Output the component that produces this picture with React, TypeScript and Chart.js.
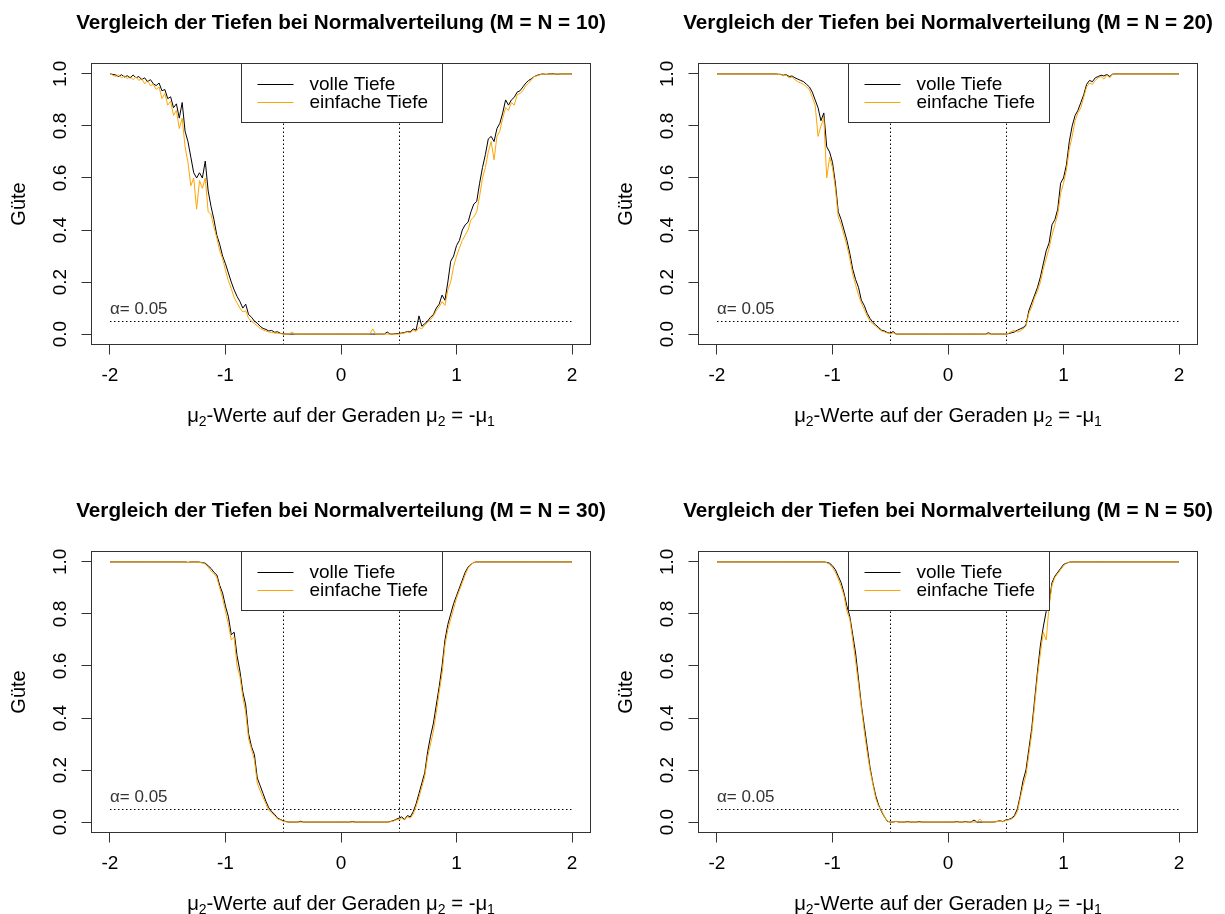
import React, { useEffect, useRef } from "react";
import { Chart, registerables } from "chart.js";

Chart.register(...registerables);

// x grid: mu2 values along the line mu2 = -mu1
const MU2 = [
  -2, -1.975, -1.95, -1.925, -1.9, -1.875, -1.85, -1.825, -1.8, -1.775, -1.75, -1.725, -1.7, -1.675, -1.65, -1.625, -1.6, -1.575, -1.55, -1.525,
  -1.5, -1.475, -1.45, -1.425, -1.4, -1.375, -1.35, -1.325, -1.3, -1.275, -1.25, -1.225, -1.2, -1.175, -1.15, -1.125, -1.1, -1.075, -1.05, -1.025,
  -1, -0.975, -0.95, -0.925, -0.9, -0.875, -0.85, -0.825, -0.8, -0.775, -0.75, -0.725, -0.7, -0.675, -0.65, -0.625, -0.6, -0.575, -0.55, -0.525,
  -0.5, -0.475, -0.45, -0.425, -0.4, -0.375, -0.35, -0.325, -0.3, -0.275, -0.25, -0.225, -0.2, -0.175, -0.15, -0.125, -0.1, -0.075, -0.05, -0.025,
  0, 0.025, 0.05, 0.075, 0.1, 0.125, 0.15, 0.175, 0.2, 0.225, 0.25, 0.275, 0.3, 0.325, 0.35, 0.375, 0.4, 0.425, 0.45, 0.475,
  0.5, 0.525, 0.55, 0.575, 0.6, 0.625, 0.65, 0.675, 0.7, 0.725, 0.75, 0.775, 0.8, 0.825, 0.85, 0.875, 0.9, 0.925, 0.95, 0.975,
  1, 1.025, 1.05, 1.075, 1.1, 1.125, 1.15, 1.175, 1.2, 1.225, 1.25, 1.275, 1.3, 1.325, 1.35, 1.375, 1.4, 1.425, 1.45, 1.475,
  1.5, 1.525, 1.55, 1.575, 1.6, 1.625, 1.65, 1.675, 1.7, 1.725, 1.75, 1.775, 1.8, 1.825, 1.85, 1.875, 1.9, 1.925, 1.95, 1.975,
  2,
];

// M = N = 10
const P1_FULL = [
  1.0, 0.998, 0.996, 0.99, 0.997, 0.988, 0.993, 0.984, 0.996, 0.985, 0.99, 0.978, 0.985, 0.97, 0.978, 0.962, 0.955, 0.965, 0.935, 0.94,
  0.905, 0.912, 0.87, 0.885, 0.83, 0.89, 0.78, 0.74, 0.68, 0.62, 0.6, 0.62, 0.6, 0.665, 0.55, 0.49, 0.44, 0.38, 0.345, 0.3,
  0.27, 0.235, 0.2, 0.17, 0.145, 0.125, 0.1, 0.115, 0.075, 0.065, 0.05, 0.042, 0.03, 0.022, 0.018, 0.012, 0.014, 0.007, 0.009, 0.003,
  0.001, 0, 0, 0, 0, 0, 0, 0, 0, 0, 0, 0, 0, 0, 0, 0, 0, 0, 0, 0,
  0, 0, 0, 0, 0, 0, 0, 0, 0, 0, 0, 0, 0, 0, 0, 0, 0.008, 0, 0, 0.002,
  0.002, 0.004, 0.006, 0.01, 0.008, 0.02, 0.015, 0.07, 0.03, 0.04, 0.05, 0.065, 0.075, 0.1, 0.115, 0.15, 0.13, 0.2, 0.28, 0.3,
  0.34, 0.36, 0.4, 0.42, 0.43, 0.47, 0.5, 0.51, 0.58, 0.64, 0.69, 0.75, 0.76, 0.74, 0.79, 0.81, 0.85, 0.9, 0.88, 0.9,
  0.91, 0.93, 0.935, 0.95, 0.965, 0.975, 0.982, 0.99, 0.995, 0.998, 1, 0.998, 1, 1, 1, 0.999, 1, 1, 1, 1,
  1,
];
const P1_SIMPLE = [
  1.0, 0.995, 0.99, 0.996, 0.985, 0.993, 0.982, 0.99, 0.978, 0.988, 0.975, 0.982, 0.962, 0.975, 0.955, 0.96, 0.94, 0.95, 0.905, 0.925,
  0.88, 0.895, 0.84, 0.86, 0.79, 0.83, 0.72, 0.66, 0.57, 0.6, 0.48, 0.59, 0.56, 0.6, 0.47, 0.46, 0.41, 0.37, 0.32, 0.29,
  0.245, 0.205, 0.175, 0.14, 0.12, 0.1, 0.085, 0.09, 0.06, 0.05, 0.04, 0.032, 0.022, 0.016, 0.012, 0.008, 0.006, 0.004, 0.003, 0.002,
  0, 0, 0, 0.008, 0, 0, 0, 0, 0, 0, 0, 0, 0, 0, 0, 0, 0, 0, 0, 0,
  0, 0, 0, 0, 0, 0, 0, 0, 0, 0, 0, 0.02, 0, 0, 0, 0, 0, 0, 0, 0,
  0, 0.002, 0.004, 0.008, 0.005, 0.015, 0.01, 0.025, 0.02, 0.035, 0.045, 0.055, 0.07, 0.09, 0.105, 0.125, 0.11, 0.17, 0.2, 0.26,
  0.3, 0.33, 0.36, 0.38, 0.4, 0.44, 0.45, 0.47, 0.53, 0.6, 0.64, 0.7, 0.74, 0.67, 0.76, 0.78, 0.83, 0.87, 0.86, 0.89,
  0.88, 0.92, 0.925, 0.935, 0.955, 0.965, 0.978, 0.99, 0.993, 0.997, 1, 0.998, 1, 0.997, 1, 1, 1, 1, 1, 1,
  1,
];

// M = N = 20
const P2_FULL = [
  1, 1, 1, 1, 1, 1, 1, 1, 1, 1, 1, 1, 1, 1, 1, 1, 1, 1, 1, 1,
  1.0, 0.999, 0.998, 0.995, 0.997, 0.99, 0.992, 0.985, 0.98, 0.975, 0.97, 0.96, 0.95, 0.93, 0.9, 0.87, 0.82, 0.85, 0.72, 0.7,
  0.66, 0.58, 0.47, 0.44, 0.4, 0.36, 0.31, 0.25, 0.21, 0.18, 0.13, 0.11, 0.08, 0.06, 0.045, 0.035, 0.025, 0.015, 0.012, 0.006,
  0.003, 0.01, 0, 0, 0, 0, 0, 0, 0, 0, 0, 0, 0, 0, 0, 0, 0, 0, 0, 0,
  0, 0, 0, 0, 0, 0, 0, 0, 0, 0, 0, 0, 0, 0, 0.005, 0, 0, 0, 0, 0,
  0, 0.002, 0.005, 0.008, 0.015, 0.02, 0.025, 0.035, 0.09, 0.12, 0.15, 0.18, 0.22, 0.27, 0.32, 0.35, 0.42, 0.44, 0.48, 0.58,
  0.6, 0.65, 0.74, 0.8, 0.84, 0.86, 0.89, 0.92, 0.96, 0.975, 0.97, 0.985, 0.99, 0.995, 0.992, 0.998, 0.99, 0.999, 1, 1,
  1, 1, 1, 1, 1, 1, 1, 1, 1, 1, 1, 1, 1, 1, 1, 1, 1, 1, 1, 1,
  1,
];
const P2_SIMPLE = [
  1, 1, 1, 1, 1, 1, 1, 1, 1, 1, 1, 1, 1, 1, 1, 1, 1, 1, 1, 1,
  1.0, 0.997, 0.999, 0.993, 0.995, 0.985, 0.988, 0.978, 0.97, 0.965, 0.96, 0.95, 0.94, 0.91, 0.88, 0.76, 0.8, 0.83, 0.6, 0.68,
  0.64, 0.56, 0.45, 0.42, 0.38, 0.34, 0.29, 0.23, 0.19, 0.15, 0.12, 0.095, 0.07, 0.05, 0.038, 0.03, 0.02, 0.012, 0.008, 0.004,
  0.002, 0.004, 0, 0, 0, 0, 0, 0, 0, 0, 0, 0, 0, 0, 0, 0, 0, 0, 0, 0,
  0, 0, 0, 0, 0, 0, 0, 0, 0, 0, 0, 0, 0, 0, 0, 0, 0, 0, 0, 0,
  0, 0.003, 0.01, 0.015, 0.008, 0.012, 0.02, 0.03, 0.08, 0.105, 0.14, 0.165, 0.2, 0.25, 0.29, 0.33, 0.38, 0.42, 0.46, 0.54,
  0.58, 0.63, 0.71, 0.76, 0.82, 0.85, 0.87, 0.91, 0.95, 0.965, 0.96, 0.975, 0.985, 0.99, 0.98, 0.995, 0.985, 0.998, 1, 1,
  1, 1, 1, 1, 1, 1, 1, 1, 1, 1, 1, 1, 1, 1, 1, 1, 1, 1, 1, 1,
  1,
];

// M = N = 30
const P3_FULL = [
  1, 1, 1, 1, 1, 1, 1, 1, 1, 1, 1, 1, 1, 1, 1, 1, 1, 1, 1, 1,
  1, 1, 1, 1, 1, 1, 1, 0.998, 1, 1, 1, 0.999, 0.997, 0.995, 0.985, 0.975, 0.96, 0.95, 0.91, 0.88,
  0.83, 0.79, 0.72, 0.73, 0.64, 0.58, 0.5, 0.45, 0.34, 0.29, 0.26, 0.17, 0.14, 0.11, 0.08, 0.055, 0.04, 0.03, 0.015, 0.01,
  0.005, 0.002, 0, 0, 0, 0, 0.003, 0, 0, 0, 0, 0, 0, 0, 0, 0, 0, 0, 0, 0,
  0, 0, 0, 0, 0.002, 0, 0, 0, 0, 0, 0, 0, 0, 0, 0, 0, 0, 0.002, 0.005, 0.01,
  0.015, 0.02, 0.01, 0.025, 0.02, 0.04, 0.07, 0.11, 0.15, 0.19, 0.27, 0.33, 0.38, 0.45, 0.52, 0.6, 0.7, 0.76, 0.8, 0.84,
  0.87, 0.9, 0.93, 0.96, 0.98, 0.99, 0.998, 1, 1, 1, 1, 1, 1, 1, 1, 1, 1, 1, 1, 1,
  1, 1, 1, 1, 1, 1, 1, 1, 1, 1, 1, 1, 1, 1, 1, 1, 1, 1, 1, 1,
  1,
];
const P3_SIMPLE = [
  1, 1, 1, 1, 1, 1, 1, 1, 1, 1, 1, 1, 1, 1, 1, 1, 1, 1, 1, 1,
  1, 1, 1, 1, 1, 1, 1, 0.997, 1, 1, 1, 0.998, 0.996, 0.992, 0.98, 0.965, 0.955, 0.94, 0.9, 0.86,
  0.81, 0.76, 0.7, 0.71, 0.6, 0.56, 0.48, 0.42, 0.32, 0.28, 0.24, 0.15, 0.12, 0.095, 0.07, 0.045, 0.035, 0.025, 0.012, 0.008,
  0.003, 0.001, 0, 0, 0, 0, 0, 0, 0, 0, 0, 0, 0, 0, 0, 0, 0, 0, 0, 0,
  0, 0, 0, 0, 0, 0, 0, 0, 0, 0, 0, 0, 0, 0, 0, 0, 0, 0.001, 0.003, 0.008,
  0.01, 0.015, 0.008, 0.02, 0.015, 0.03, 0.06, 0.095, 0.135, 0.175, 0.25, 0.3, 0.35, 0.42, 0.5, 0.57, 0.68, 0.74, 0.78, 0.82,
  0.86, 0.89, 0.92, 0.95, 0.975, 0.99, 0.997, 1, 1, 1, 1, 1, 1, 1, 1, 1, 1, 1, 1, 1,
  1, 1, 1, 1, 1, 1, 1, 1, 1, 1, 1, 1, 1, 1, 1, 1, 1, 1, 1, 1,
  1,
];

// M = N = 50
const P4_FULL = [
  1, 1, 1, 1, 1, 1, 1, 1, 1, 1, 1, 1, 1, 1, 1, 1, 1, 1, 1, 1,
  1, 1, 1, 1, 1, 1, 1, 1, 1, 1, 1, 1, 1, 1, 1, 1, 1, 1, 0.998, 0.995,
  0.985, 0.97, 0.945, 0.92, 0.88, 0.83, 0.79, 0.72, 0.65, 0.55, 0.45, 0.37, 0.29, 0.21, 0.15, 0.1, 0.065, 0.04, 0.02, 0.003,
  0, 0, 0.003, 0, 0, 0, 0.002, 0, 0, 0, 0.002, 0, 0, 0, 0, 0, 0, 0, 0, 0,
  0, 0, 0, 0.002, 0, 0, 0.002, 0, 0, 0.008, 0, 0, 0, 0, 0, 0, 0, 0.003, 0.005, 0.002,
  0.008, 0.01, 0.015, 0.025, 0.05, 0.1, 0.16, 0.2, 0.28, 0.36, 0.47, 0.58, 0.68, 0.75, 0.81, 0.84, 0.92, 0.945, 0.96, 0.975,
  0.99, 0.995, 0.999, 1, 1, 1, 1, 1, 1, 1, 1, 1, 1, 1, 1, 1, 1, 1, 1, 1,
  1, 1, 1, 1, 1, 1, 1, 1, 1, 1, 1, 1, 1, 1, 1, 1, 1, 1, 1, 1,
  1,
];
const P4_SIMPLE = [
  1, 1, 1, 1, 1, 1, 1, 1, 1, 1, 1, 1, 1, 1, 1, 1, 1, 1, 1, 1,
  1, 1, 1, 1, 1, 1, 1, 1, 1, 1, 1, 1, 1, 1, 1, 1, 1, 1, 0.997, 0.99,
  0.978, 0.96, 0.935, 0.905, 0.87, 0.81, 0.78, 0.7, 0.62, 0.53, 0.44, 0.35, 0.27, 0.2, 0.145, 0.09, 0.06, 0.045, 0.02, 0.004,
  0, 0, 0.002, 0, 0, 0, 0, 0, 0, 0, 0, 0, 0, 0, 0, 0, 0, 0, 0, 0,
  0, 0, 0, 0, 0, 0, 0, 0, 0, 0, 0, 0.012, 0, 0, 0, 0, 0, 0.002, 0.004, 0.001,
  0.006, 0.008, 0.012, 0.02, 0.04, 0.09, 0.14, 0.18, 0.26, 0.34, 0.45, 0.56, 0.65, 0.73, 0.7, 0.83, 0.91, 0.94, 0.955, 0.97,
  0.985, 0.995, 0.998, 1, 1, 1, 1, 1, 1, 1, 1, 1, 1, 1, 1, 1, 1, 1, 1, 1,
  1, 1, 1, 1, 1, 1, 1, 1, 1, 1, 1, 1, 1, 1, 1, 1, 1, 1, 1, 1,
  1,
];

const SAMPLE_SIZES = [10, 20, 30, 50];
const FULL_SERIES = [P1_FULL, P2_FULL, P3_FULL, P4_FULL];
const SIMPLE_SERIES = [P1_SIMPLE, P2_SIMPLE, P3_SIMPLE, P4_SIMPLE];

const X_TICKS = [-2, -1, 0, 1, 2];
const Y_TICKS = [0, 0.2, 0.4, 0.6, 0.8, 1.0];
const ALPHA = 0.05;
const BOUNDS = [-0.5, 0.5];

const TITLE_PREFIX = "Vergleich der Tiefen bei Normalverteilung";
// x axis label: [text, isSubscript]
const X_LABEL_PARTS: [string, boolean][] = [
  ["μ", false], ["2", true], ["-Werte auf der Geraden ", false], ["μ", false], ["2", true], [" = -", false], ["μ", false], ["1", true],
];
const Y_LABEL = "Güte";
const ALPHA_LABEL = "α= 0.05";
const LEGEND_LABELS = ["volle Tiefe", "einfache Tiefe"];
const COLOR_FULL = "#000000";
const COLOR_SIMPLE = "#FFA500";

const FONT = "'Liberation Sans', Arial, Helvetica, sans-serif";
const CANVAS_W = 618;
const CANVAS_H = 426;

function Panel(props: { idx: number; left: number; top: number }) {
  const { idx, left, top } = props;
  const ref = useRef<HTMLCanvasElement>(null);

  useEffect(() => {
    const canvas = ref.current;
    if (!canvas) return;
    const full = FULL_SERIES[idx];
    const simple = SIMPLE_SERIES[idx];
    const title = `${TITLE_PREFIX} (M = N = ${SAMPLE_SIZES[idx]})`;

    const overlay = {
      id: "rOverlay",
      beforeDatasetsDraw(chart: any) {
        const { ctx, chartArea: a, scales } = chart;
        const x = scales.x;
        const y = scales.y;
        ctx.save();
        ctx.strokeStyle = "#000";
        ctx.lineWidth = 1;
        ctx.setLineDash([1.5, 2.5]);
        const ya = Math.round(y.getPixelForValue(ALPHA)) + 0.5;
        ctx.beginPath();
        ctx.moveTo(x.getPixelForValue(-2), ya);
        ctx.lineTo(x.getPixelForValue(2), ya);
        ctx.stroke();
        for (const b of BOUNDS) {
          const xb = Math.round(x.getPixelForValue(b)) + 0.5;
          ctx.beginPath();
          ctx.moveTo(xb, a.top);
          ctx.lineTo(xb, a.bottom);
          ctx.stroke();
        }
        ctx.restore();
      },
      afterDraw(chart: any) {
        const { ctx, chartArea: a, scales } = chart;
        const x = scales.x;
        const y = scales.y;
        const cx = (a.left + a.right) / 2;
        ctx.save();
        // main title
        ctx.fillStyle = "#000";
        ctx.font = `bold 20.7px ${FONT}`;
        ctx.textAlign = "center";
        ctx.textBaseline = "middle";
        ctx.fillText(title, cx, 23);
        // alpha label
        ctx.fillStyle = "#333";
        ctx.font = `17px ${FONT}`;
        ctx.textAlign = "left";
        ctx.textBaseline = "middle";
        ctx.fillText(ALPHA_LABEL, x.getPixelForValue(-2), y.getPixelForValue(ALPHA) - 12);
        // x axis label with subscripts
        const mainFont = `20.3px ${FONT}`;
        const subFont = `14px ${FONT}`;
        let total = 0;
        for (const [t, sub] of X_LABEL_PARTS) {
          ctx.font = sub ? subFont : mainFont;
          total += ctx.measureText(t).width;
        }
        let tx = cx - total / 2;
        const baseY = 421.5;
        ctx.fillStyle = "#000";
        ctx.textBaseline = "alphabetic";
        for (const [t, sub] of X_LABEL_PARTS) {
          ctx.font = sub ? subFont : mainFont;
          ctx.fillText(t, tx, sub ? baseY + 4 : baseY);
          tx += ctx.measureText(t).width;
        }
        // plot box
        ctx.setLineDash([]);
        ctx.strokeStyle = "#333";
        ctx.lineWidth = 1;
        ctx.strokeRect(a.left, a.top, a.right - a.left, a.bottom - a.top);
        // legend (top)
        const bl = Math.round(cx - 100) + 0.5;
        const bw = 201;
        const bt = a.top;
        const bh = 59;
        ctx.fillStyle = "#fff";
        ctx.fillRect(bl, bt, bw, bh);
        ctx.strokeStyle = "#333";
        ctx.strokeRect(bl, bt, bw, bh);
        const rows = [
          { label: LEGEND_LABELS[0], color: COLOR_FULL, dy: 20.5 },
          { label: LEGEND_LABELS[1], color: COLOR_SIMPLE, dy: 38.5 },
        ];
        ctx.font = `19px ${FONT}`;
        for (const r of rows) {
          const ly = Math.round(bt + r.dy) + 0.5;
          ctx.strokeStyle = r.color;
          ctx.beginPath();
          ctx.moveTo(bl + 16, ly);
          ctx.lineTo(bl + 52, ly);
          ctx.stroke();
          ctx.fillStyle = "#000";
          ctx.textBaseline = "middle";
          ctx.fillText(r.label, bl + 68, ly + 0.5);
        }
        ctx.restore();
      },
    };

    const chart = new Chart(canvas, {
      type: "line",
      data: {
        datasets: [
          {
            label: LEGEND_LABELS[1],
            data: MU2.map((v, i) => ({ x: v, y: simple[i] })),
            borderColor: COLOR_SIMPLE,
            borderWidth: 1,
            pointRadius: 0,
            tension: 0,
            fill: false,
            order: 1,
          },
          {
            label: LEGEND_LABELS[0],
            data: MU2.map((v, i) => ({ x: v, y: full[i] })),
            borderColor: COLOR_FULL,
            borderWidth: 1,
            pointRadius: 0,
            tension: 0,
            fill: false,
            order: 2,
          },
        ],
      },
      options: {
        responsive: false,
        animation: false,
        devicePixelRatio: 1,
        events: [],
        layout: { padding: { left: 0, top: 63.5, right: 27.5, bottom: 0 } },
        plugins: {
          legend: { display: false },
          tooltip: { enabled: false },
          title: { display: false },
        },
        scales: {
          x: {
            type: "linear",
            min: -2.16,
            max: 2.16,
            afterBuildTicks: (s: any) => {
              s.ticks = X_TICKS.map((v) => ({ value: v }));
            },
            afterFit: (s: any) => {
              s.height = 81.5;
            },
            grid: { drawOnChartArea: false, drawTicks: true, tickLength: 10, color: "#333", lineWidth: 1 },
            border: { display: false },
            ticks: {
              color: "#000",
              font: { family: FONT, size: 19 },
              padding: 10,
              maxRotation: 0,
              autoSkip: false,
              callback: (v: any) => String(v),
            },
            title: { display: false },
          },
          y: {
            type: "linear",
            min: -0.04,
            max: 1.04,
            afterBuildTicks: (s: any) => {
              s.ticks = Y_TICKS.map((v) => ({ value: v }));
            },
            afterFit: (s: any) => {
              s.width = 91.5;
            },
            grid: { drawOnChartArea: false, drawTicks: true, tickLength: 10, color: "#333", lineWidth: 1 },
            border: { display: false },
            ticks: {
              color: "#000",
              font: { family: FONT, size: 19 },
              padding: 7.2,
              minRotation: 90,
              maxRotation: 90,
              crossAlign: "center",
              autoSkip: false,
              callback: (v: any) => Number(v).toFixed(1),
            },
            title: {
              display: true,
              text: Y_LABEL,
              color: "#000",
              font: { family: FONT, size: 20 },
              padding: { top: 7.5, bottom: 0 },
            },
          },
        },
      },
      plugins: [overlay],
    } as any);

    return () => chart.destroy();
  }, [idx]);

  return (
    <canvas
      ref={ref}
      width={CANVAS_W}
      height={CANVAS_H}
      style={{ position: "absolute", left, top, width: CANVAS_W, height: CANVAS_H }}
    />
  );
}

export default function App() {
  return (
    <div style={{ position: "absolute", left: 0, top: 0, width: 1225, height: 914, background: "#fff", overflow: "hidden" }}>
      <Panel idx={0} left={0} top={0} />
      <Panel idx={1} left={607} top={0} />
      <Panel idx={2} left={0} top={488} />
      <Panel idx={3} left={607} top={488} />
    </div>
  );
}
